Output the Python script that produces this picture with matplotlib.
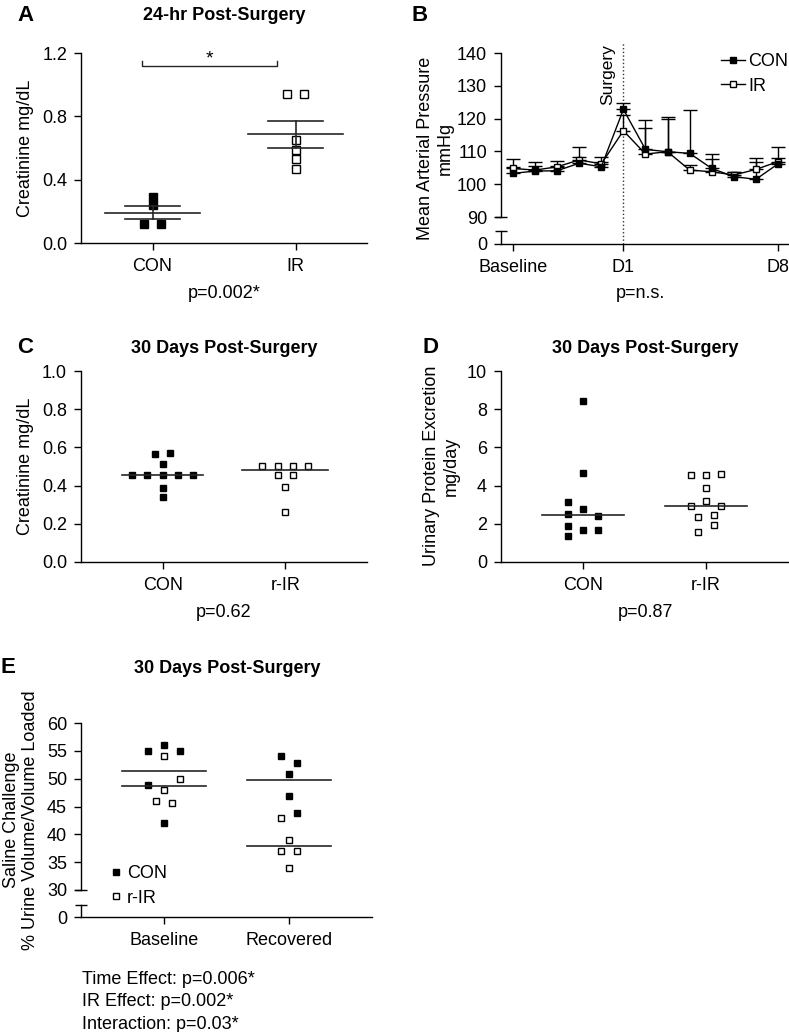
import matplotlib
matplotlib.use("Agg")
import matplotlib.pyplot as plt
import numpy as np

plt.rcParams['font.family'] = ['Liberation Sans', 'DejaVu Sans']
plt.rcParams['font.size'] = 13
plt.rcParams['axes.linewidth'] = 1.0

# ---- data ----
# A: creatinine 24 h after surgery
a_groups = ['CON', 'IR']
a_con = [0.29, 0.24, 0.12, 0.12]
a_ir = [0.94, 0.94, 0.65, 0.59, 0.53, 0.47]

# B: mean arterial pressure, 5 baseline days + D1..D8
b_ticks = ['Baseline', 'D1', 'D8']
b_tick_idx = [0, 5, 12]
b_con = [103.3, 104.0, 104.1, 106.4, 105.3, 122.8, 110.6, 109.9, 109.4, 104.8, 102.3, 101.5, 106.2]
b_con_err = [2.0, 1.5, 1.5, 2.0, 1.5, 1.9, 9.0, 10.7, 13.2, 4.4, 1.5, 5.4, 5.0]
b_ir = [104.8, 104.3, 105.3, 107.4, 106.2, 116.3, 109.2, 109.9, 104.3, 103.8, 102.8, 104.5, 106.9]
b_ir_err = [2.9, 2.4, 1.8, 3.8, 2.2, 4.7, 7.8, 9.9, 1.5, 3.9, 1.0, 3.4, 1.0]

# C: creatinine 30 days
c_groups = ['CON', 'r-IR']
c_con = [0.453, 0.453, 0.453, 0.453, 0.453, 0.564, 0.573, 0.512, 0.39, 0.34]
c_ir = [0.503, 0.503, 0.503, 0.503, 0.456, 0.456, 0.392, 0.261]

# D: urinary protein excretion 30 days
d_con = [8.43, 4.67, 3.14, 2.77, 2.53, 2.39, 1.86, 1.69, 1.66, 1.34]
d_ir = [4.53, 4.53, 4.62, 3.90, 3.17, 2.91, 2.94, 2.35, 2.47, 1.92, 1.57]

# E: saline challenge
e_groups = ['Baseline', 'Recovered']
e_base_con = [55.0, 56.0, 55.0, 48.9, 42.0]
e_base_ir = [54.0, 50.0, 47.9, 46.0, 45.7]
e_rec_con = [54.0, 52.9, 50.9, 46.9, 43.9]
e_rec_ir = [43.0, 39.0, 37.0, 37.0, 33.9]
e_stats = ['Time Effect: p=0.006*', 'IR Effect: p=0.002*', 'Interaction: p=0.03*']

# horizontal spreading of the dots (layout only)
a_con_dx = [0, 0, -0.056, 0.056]
a_ir_dx = [-0.056, 0.056, 0, 0, 0, 0]
c_con_dx = [-0.25, -0.125, 0, 0.125, 0.25, -0.0625, 0.0625, 0, 0, 0]
c_ir_dx = [-0.1875, -0.0625, 0.0625, 0.1875, -0.0625, 0.0625, 0, 0]
d_con_dx = [0, 0, -0.125, 0, -0.125, 0.125, -0.125, 0, 0.125, -0.125]
d_ir_dx = [-0.125, 0, 0.125, 0, 0, -0.125, 0.125, -0.0625, 0.0625, 0.0625, -0.0625]
e_base_con_dx = [-0.125, 0, 0.125, -0.125, 0]
e_base_ir_dx = [0, 0.125, 0, -0.0625, 0.0625]
e_rec_con_dx = [-0.0625, 0.0625, 0, 0, 0.0625]
e_rec_ir_dx = [-0.0625, 0, -0.0625, 0.0625, 0]

W, H = 789, 1032
fig = plt.figure(figsize=(W / 100, H / 100), dpi=100)


def add_ax(l, t, r, b):
    ax = fig.add_axes([l / W, 1 - b / H, (r - l) / W, (b - t) / H])
    ax.set_facecolor('none')
    ax.spines[['top', 'right']].set_visible(False)
    ax.tick_params(direction='out', length=5, width=1, labelsize=13)
    ax.tick_params(axis='x', pad=6)
    ax.tick_params(axis='y', pad=5)
    return ax


def ftext(x, y, s, **kw):
    kw.setdefault('ha', 'center')
    kw.setdefault('va', 'baseline')
    fig.text(x / W, 1 - y / H, s, **kw)


def dots(ax, x0, vals, dx, filled, ms=5):
    xs = x0 + np.array(dx)
    if filled:
        ax.plot(xs, vals, 's', color='black', ms=ms, zorder=2, clip_on=False)
    else:
        ax.plot(xs, vals, 's', mfc='white', mec='black', mew=1.0, ms=ms, zorder=2, clip_on=False)


def hline(ax, x0, y, half, lw=1.2):
    ax.plot([x0 - half, x0 + half], [y, y], color='#262626', lw=lw, zorder=3)


def cap(ax, y):
    ax.plot([0], [y], marker='_', ms=8, mew=1.0, color='black',
            transform=ax.get_yaxis_transform(), clip_on=False)


LINE = '#262626'

# ---------------- A ----------------
ax = add_ax(81, 53, 367, 243)
ax.set_xlim(-0.5, 1.5)
ax.set_ylim(0, 1.2)
ax.set_yticks([0, 0.4, 0.8, 1.2])
ax.set_yticklabels(['0.0', '0.4', '0.8', '1.2'])
ax.set_xticks([0, 1])
ax.set_xticklabels(a_groups)
dots(ax, 0, a_con, a_con_dx, True, ms=5.6)
dots(ax, 1, a_ir, a_ir_dx, False, ms=5.6)
for i, g in enumerate([a_con, a_ir]):
    m = np.mean(g)
    sem = np.std(g, ddof=1) / np.sqrt(len(g))
    hline(ax, i, m, 0.33)
    hline(ax, i, m + sem, 0.19)
    hline(ax, i, m - sem, 0.19)
    ax.plot([i, i], [m - sem, m + sem], color=LINE, lw=1.2, zorder=3)
ax.plot([-0.07, -0.07, 0.87, 0.87], [1.15, 1.118, 1.118, 1.15], color=LINE, lw=1.0, clip_on=False)
ax.text(0.40, 1.16, '*', ha='center', va='center', fontsize=14)
ftext(25, 21, 'A', fontsize=16, fontweight='bold')
ftext(224, 20.5, '24-hr Post-Surgery', fontsize=13, fontweight='bold')
ftext(26, 148, 'Creatinine mg/dL', rotation=90, va='center')
ftext(224, 298, 'p=0.002*')

# ---------------- B ----------------
days = np.arange(len(b_con))
xl = (-0.54, 12.45)
axb = add_ax(501, 53, 788, 217)
axb.set_xlim(*xl)
axb.set_ylim(90, 140)
axb.set_yticks([90, 100, 110, 120, 130, 140])
axb.spines['bottom'].set_visible(False)
axb.tick_params(axis='x', bottom=False, labelbottom=False)
cap(axb, 90)
axb.errorbar(days, b_ir, yerr=[np.zeros(len(b_ir)), b_ir_err], fmt='none',
             ecolor='black', elinewidth=1.0, capsize=5, capthick=1.0, clip_on=False, zorder=2)
axb.errorbar(days, b_con, yerr=[np.zeros(len(b_con)), b_con_err], fmt='none',
             ecolor='black', elinewidth=1.0, capsize=5, capthick=1.0, clip_on=False, zorder=2)
axb.plot(days, b_ir, '-s', color='black', lw=1.0, mfc='white', mec='black', mew=1.0, ms=5,
         label='IR', zorder=3, clip_on=False)
axb.plot(days, b_con, '-s', color='black', lw=1.0, ms=5, label='CON', zorder=4, clip_on=False)
axb.axvline(5, ymin=-27 / 164, ymax=1 + 10 / 164, ls=':', lw=1.0, color='#333333', clip_on=False, zorder=1)
axb.text(4.62, 124.1, 'Surgery', rotation=90, ha='right', va='bottom', fontsize=12.5)
h, l = axb.get_legend_handles_labels()
axb.legend(h[::-1], l[::-1], loc='upper right', bbox_to_anchor=(1.0, 1.0), frameon=False,
           numpoints=1, handlelength=1.3, handletextpad=0.17, labelspacing=0.42,
           borderaxespad=0, borderpad=0, fontsize=13)

axb2 = add_ax(501, 231, 788, 244)
axb2.set_xlim(*xl)
axb2.set_ylim(0, 3.96)
axb2.set_yticks([0])
axb2.set_xticks(b_tick_idx)
axb2.set_xticklabels(b_ticks)
cap(axb2, 3.96)
ftext(420, 21, 'B', fontsize=16, fontweight='bold')
ftext(435, 148, 'Mean Arterial Pressure\nmmHg', rotation=90, va='center', multialignment='center')
ftext(640, 298, 'p=n.s.')

# ---------------- C ----------------
ax = add_ax(81, 371, 367, 562)
ax.set_xlim(-0.667, 1.667)
ax.set_ylim(0, 1.0)
ax.set_yticks(np.arange(0, 1.01, 0.2))
ax.set_yticklabels(['0.0', '0.2', '0.4', '0.6', '0.8', '1.0'])
ax.set_xticks([0, 1])
ax.set_xticklabels(c_groups)
dots(ax, 0, c_con, c_con_dx, True)
dots(ax, 1, c_ir, c_ir_dx, False)
hline(ax, 0, np.median(c_con), 0.33)
hline(ax, 1, np.median(c_ir), 0.35)
ftext(25, 353, 'C', fontsize=16, fontweight='bold')
ftext(224, 353, '30 Days Post-Surgery', fontsize=13, fontweight='bold')
ftext(26, 466, 'Creatinine mg/dL', rotation=90, va='center')
ftext(224, 617, 'p=0.62')

# ---------------- D ----------------
ax = add_ax(501, 371, 788, 562)
ax.set_xlim(-0.667, 1.667)
ax.set_ylim(0, 10)
ax.set_yticks(np.arange(0, 11, 2))
ax.set_xticks([0, 1])
ax.set_xticklabels(c_groups)
dots(ax, 0, d_con, d_con_dx, True)
dots(ax, 1, d_ir, d_ir_dx, False)
hline(ax, 0, np.median(d_con), 0.335)
hline(ax, 1, np.median(d_ir), 0.335)
ftext(430, 353, 'D', fontsize=16, fontweight='bold')
ftext(645, 353, '30 Days Post-Surgery', fontsize=13, fontweight='bold')
ftext(441, 466, 'Urinary Protein Excretion\nmg/day', rotation=90, va='center', multialignment='center')
ftext(645, 617, 'p=0.87')

# ---------------- E ----------------
exl = (-0.664, 1.664)
axe = add_ax(81, 723, 372, 890)
axe.set_xlim(*exl)
axe.set_ylim(30, 60)
axe.set_yticks(np.arange(30, 61, 5))
axe.spines['bottom'].set_visible(False)
axe.tick_params(axis='x', bottom=False, labelbottom=False)
cap(axe, 30)
dots(axe, 0, e_base_con, e_base_con_dx, True)
dots(axe, 0, e_base_ir, e_base_ir_dx, False)
dots(axe, 1, e_rec_con, e_rec_con_dx, True)
dots(axe, 1, e_rec_ir, e_rec_ir_dx, False)
for i, (gc, gi) in enumerate([(e_base_con, e_base_ir), (e_rec_con, e_rec_ir)]):
    hline(axe, i, np.mean(gc), 0.335)
    hline(axe, i, np.mean(gi), 0.335)
axe.plot([], [], 's', color='black', ms=5, label='CON')
axe.plot([], [], 's', mfc='white', mec='black', mew=1.0, ms=5, label='r-IR')
axe.legend(loc='upper left', bbox_to_anchor=(0.0955, 0.150), frameon=False, numpoints=1,
           handlelength=0.8, handletextpad=0.2, labelspacing=0.42, borderaxespad=0,
           borderpad=0, fontsize=13)

axe2 = add_ax(81, 905, 372, 917)
axe2.set_xlim(*exl)
axe2.set_ylim(0, 2.15)
axe2.set_yticks([0])
axe2.set_xticks([0, 1])
axe2.set_xticklabels(e_groups)
cap(axe2, 2.15)
ftext(8, 673, 'E', fontsize=16, fontweight='bold')
ftext(227, 673, '30 Days Post-Surgery', fontsize=13, fontweight='bold')
ftext(21, 820, 'Saline Challenge\n% Urine Volume/Volume Loaded', rotation=90, va='center',
      multialignment='center')
for k, s in enumerate(e_stats):
    ftext(81.5, 984 + 22.3 * k, s, ha='left')

fig.savefig('out.png', dpi=100)
